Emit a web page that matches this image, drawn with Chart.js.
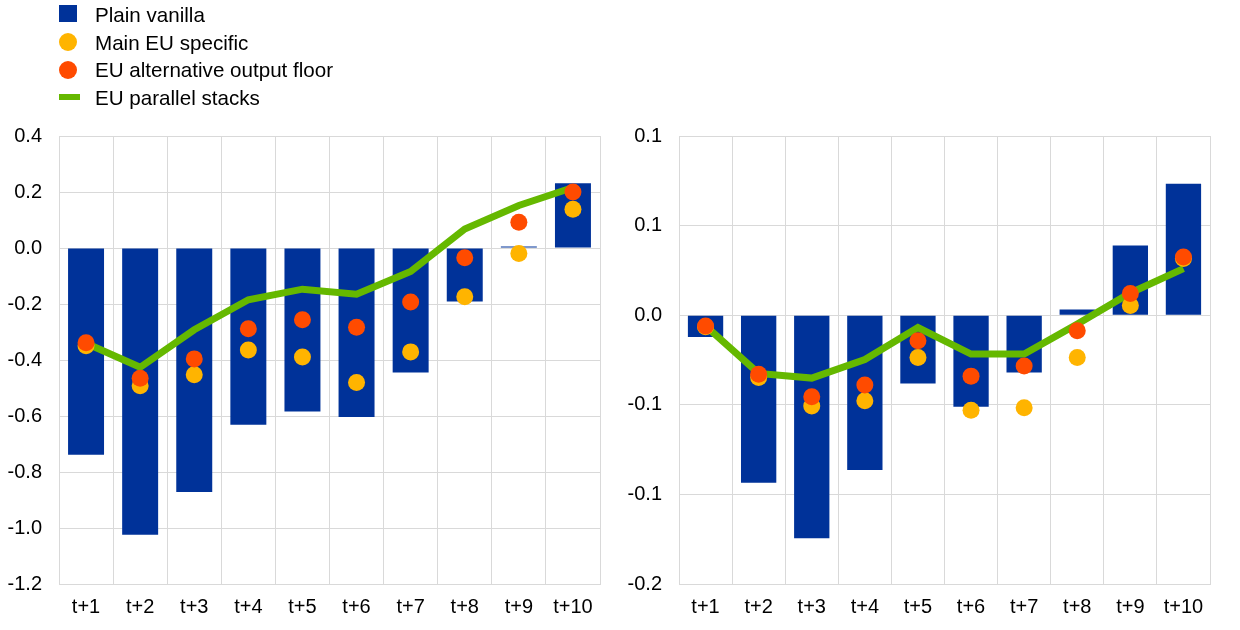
<!DOCTYPE html>
<html>
<head>
<meta charset="utf-8">
<script src="https://cdn.jsdelivr.net/npm/chart.js@4/dist/chart.umd.min.js"></script>
<style>
  html, body { margin: 0; padding: 0; background: #fff; }
  #wrap { position: relative; width: 1240px; height: 630px; overflow: hidden; font-family: "Liberation Sans", Arial, sans-serif; }
  canvas { position: absolute; top: 0; }
  #cLeft { left: 0; }
  #cRight { left: 620px; }
  .lg { position: absolute; left: 95px; font-size: 20.6px; line-height: 28px; color: #000; white-space: nowrap; }
  .mk { position: absolute; }
</style>
</head>
<body>
<div id="wrap">
  <canvas id="cLeft" width="620" height="630"></canvas>
  <canvas id="cRight" width="620" height="630"></canvas>

  <div class="mk" style="left:59px; top:5px; width:18px; height:17px; background:#003299;"></div>
  <div class="lg" style="top:1px;">Plain vanilla</div>
  <div class="mk" style="left:59px; top:33px; width:18px; height:18px; border-radius:50%; background:#FFB400;"></div>
  <div class="lg" style="top:28.5px;">Main EU specific</div>
  <div class="mk" style="left:59px; top:61px; width:18px; height:18px; border-radius:50%; background:#FF4B00;"></div>
  <div class="lg" style="top:56px;">EU alternative output floor</div>
  <div class="mk" style="left:59px; top:94px; width:21px; height:6px; background:#65B800;"></div>
  <div class="lg" style="top:83.5px;">EU parallel stacks</div>
</div>

<script>
// Horizons on the x axis
const horizons = ['t+1', 't+2', 't+3', 't+4', 't+5', 't+6', 't+7', 't+8', 't+9', 't+10'];

// Left panel
const leftPlainVanilla = [-0.738, -1.024, -0.871, -0.631, -0.584, -0.604, -0.445, -0.191, 0.005, 0.231];
const leftMainEU       = [-0.349, -0.492, -0.453, -0.364, -0.389, -0.480, -0.371, -0.174, -0.020, 0.138];
const leftAltFloor     = [-0.338, -0.465, -0.396, -0.288, -0.256, -0.283, -0.193, -0.035, 0.092, 0.200];
const leftParallel     = [-0.340, -0.426, -0.292, -0.185, -0.147, -0.165, -0.084, 0.068, 0.152, 0.216];
const leftTicks = { min: -1.2, max: 0.4, step: 0.2 };

// Right panel
const rightPlainVanilla = [-0.0121, -0.0935, -0.1245, -0.0864, -0.0381, -0.0511, -0.0320, 0.0032, 0.0389, 0.0734];
const rightMainEU       = [-0.0065, -0.0347, -0.0507, -0.0478, -0.0236, -0.0530, -0.0517, -0.0236, 0.0054, 0.0316];
const rightAltFloor     = [-0.0060, -0.0329, -0.0455, -0.0390, -0.0143, -0.0340, -0.0284, -0.0087, 0.0121, 0.0325];
const rightParallel     = [-0.0060, -0.0325, -0.0351, -0.0247, -0.0069, -0.0217, -0.0217, -0.0050, 0.0124, 0.0260];
const rightTicks = { min: -0.15, max: 0.10, step: 0.05 };

const BLUE = '#003299', YELLOW = '#FFB400', RED = '#FF4B00', GREEN = '#65B800', GRID = '#d9d9d9';
const FONT = { family: '"Liberation Sans", Arial, sans-serif', size: 20 };

// one decimal, rounding halves away from zero
function fmt(v) {
  const r = Math.sign(v) * Math.round(Math.abs(v) * 10 + 1e-9) / 10;
  return (r === 0 ? 0 : r).toFixed(1);
}

function makeChart(id, plain, mainEU, altFloor, parallel, ticks) {
  return new Chart(document.getElementById(id), {
    data: {
      labels: horizons,
      datasets: [
        { type: 'bar', label: 'Plain vanilla', data: plain, backgroundColor: BLUE,
          borderWidth: 0, barPercentage: 0.665, categoryPercentage: 1, order: 4 },
        { type: 'line', label: 'EU parallel stacks', data: parallel, borderColor: GREEN,
          borderWidth: 7, pointRadius: 0, tension: 0, fill: false,
          borderJoinStyle: 'miter', borderCapStyle: 'butt', order: 3 },
        { type: 'line', label: 'Main EU specific', data: mainEU, showLine: false,
          pointRadius: 8.5, pointBackgroundColor: YELLOW, pointBorderWidth: 0, order: 2 },
        { type: 'line', label: 'EU alternative output floor', data: altFloor, showLine: false,
          pointRadius: 8.5, pointBackgroundColor: RED, pointBorderWidth: 0, order: 1 }
      ]
    },
    options: {
      responsive: false,
      devicePixelRatio: 1,
      animation: false,
      layout: { padding: { top: 136, right: id === 'cLeft' ? 20 : 30, bottom: 0, left: 0 } },
      plugins: { legend: { display: false }, tooltip: { enabled: false } },
      scales: {
        x: {
          grid: { color: GRID, lineWidth: 1, drawTicks: false, offset: true },
          border: { color: GRID },
          ticks: { color: '#000', font: FONT, padding: 11, maxRotation: 0, autoSkip: false },
          afterFit: s => { s.height = 46; }
        },
        y: {
          min: ticks.min, max: ticks.max,
          grid: { color: GRID, lineWidth: 1, drawTicks: false },
          border: { color: GRID },
          ticks: { color: '#000', font: FONT, padding: 17, stepSize: ticks.step, callback: v => fmt(v) },
          afterFit: s => { s.width = 59; }
        }
      }
    }
  });
}

makeChart('cLeft', leftPlainVanilla, leftMainEU, leftAltFloor, leftParallel, leftTicks);
makeChart('cRight', rightPlainVanilla, rightMainEU, rightAltFloor, rightParallel, rightTicks);
</script>
</body>
</html>
